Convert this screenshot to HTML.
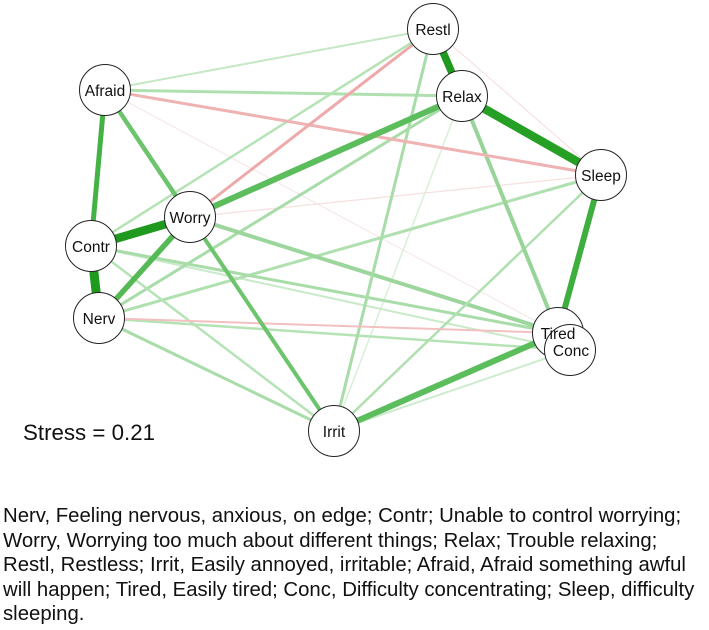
<!DOCTYPE html>
<html><head><meta charset="utf-8"><style>
body{margin:0;background:#fff;width:709px;height:630px;overflow:hidden;font-family:"Liberation Sans",Arial,sans-serif}
.cap{position:absolute;left:3px;top:504px;font-size:20.35px;line-height:24.6px;color:#111;white-space:nowrap}
</style></head><body>
<svg width="709" height="630" style="position:absolute;left:0;top:0" font-family="Liberation Sans, Arial, sans-serif">
<g stroke-linecap="butt">
<line x1="433" y1="29" x2="601" y2="175" stroke="#f6dcdc" stroke-width="1"/>
<line x1="190" y1="217" x2="601" y2="175" stroke="#f6e0e0" stroke-width="1.2"/>
<line x1="105" y1="90" x2="558" y2="333" stroke="#f6e4e4" stroke-width="1"/>
<line x1="334" y1="431" x2="462" y2="96" stroke="#d8f0d8" stroke-width="1.5"/>
<line x1="334" y1="431" x2="570" y2="350" stroke="#cdeccd" stroke-width="2"/>
<line x1="91" y1="246" x2="570" y2="350" stroke="#c8eac8" stroke-width="2"/>
<line x1="105" y1="90" x2="433" y2="29" stroke="#c3e8c3" stroke-width="2"/>
<line x1="105" y1="90" x2="462" y2="96" stroke="#b0e0b0" stroke-width="3"/>
<line x1="91" y1="246" x2="433" y2="29" stroke="#b5e3b5" stroke-width="2.5"/>
<line x1="99" y1="318" x2="462" y2="96" stroke="#a8dca8" stroke-width="3"/>
<line x1="99" y1="318" x2="601" y2="175" stroke="#b0e0b0" stroke-width="3"/>
<line x1="99" y1="318" x2="570" y2="350" stroke="#b5e3b5" stroke-width="2.5"/>
<line x1="99" y1="318" x2="334" y2="431" stroke="#a8dca8" stroke-width="3"/>
<line x1="91" y1="246" x2="558" y2="333" stroke="#a8dca8" stroke-width="3"/>
<line x1="91" y1="246" x2="334" y2="431" stroke="#b5e3b5" stroke-width="2.5"/>
<line x1="190" y1="217" x2="558" y2="333" stroke="#9cd69c" stroke-width="4"/>
<line x1="334" y1="431" x2="433" y2="29" stroke="#a8dca8" stroke-width="3"/>
<line x1="334" y1="431" x2="601" y2="175" stroke="#b0e0b0" stroke-width="2.5"/>
<line x1="462" y1="96" x2="558" y2="333" stroke="#98d498" stroke-width="4"/>
<line x1="105" y1="90" x2="601" y2="175" stroke="#efb3b3" stroke-width="3"/>
<line x1="190" y1="217" x2="433" y2="29" stroke="#eeaaaa" stroke-width="3"/>
<line x1="99" y1="318" x2="558" y2="333" stroke="#f2c0c0" stroke-width="2"/>
<line x1="105" y1="90" x2="190" y2="217" stroke="#6cc46c" stroke-width="4.5"/>
<line x1="190" y1="217" x2="334" y2="431" stroke="#6cc46c" stroke-width="4"/>
<line x1="99" y1="318" x2="190" y2="217" stroke="#55b955" stroke-width="5.5"/>
<line x1="190" y1="217" x2="462" y2="96" stroke="#5cbd5c" stroke-width="6"/>
<line x1="334" y1="431" x2="558" y2="333" stroke="#5cbd5c" stroke-width="6"/>
<line x1="105" y1="90" x2="91" y2="246" stroke="#44b244" stroke-width="5"/>
<line x1="601" y1="175" x2="558" y2="333" stroke="#3eaf3e" stroke-width="6"/>
<line x1="433" y1="29" x2="462" y2="96" stroke="#1f9a1f" stroke-width="7.5"/>
<line x1="462" y1="96" x2="601" y2="175" stroke="#25a025" stroke-width="8.5"/>
<line x1="91" y1="246" x2="190" y2="217" stroke="#1f9a1f" stroke-width="8.5"/>
<line x1="91" y1="246" x2="99" y2="318" stroke="#1f9a1f" stroke-width="9"/>
</g>
<g fill="#fff" stroke="#222" stroke-width="1">
<circle cx="433" cy="29" r="25.5"/><circle cx="105" cy="90" r="25.5"/><circle cx="462" cy="96" r="25.5"/>
<circle cx="601" cy="175" r="25.5"/><circle cx="190" cy="217" r="25.5"/><circle cx="91" cy="246" r="25.5"/>
<circle cx="99" cy="318" r="25.5"/><circle cx="558" cy="333" r="25.5"/><circle cx="570" cy="350" r="25.5"/>
<circle cx="334" cy="431" r="25.5"/>
</g>
<g font-size="15.5" text-anchor="middle" fill="#111">
<text x="433" y="35">Restl</text><text x="105" y="96">Afraid</text><text x="462" y="102">Relax</text>
<text x="601" y="181">Sleep</text><text x="190" y="223">Worry</text><text x="91" y="252">Contr</text>
<text x="99" y="324">Nerv</text><text x="558" y="339">Tired</text><text x="571" y="356">Conc</text>
<text x="334" y="437">Irrit</text>
</g>
<text x="23" y="440" font-size="22.3" fill="#111">Stress = 0.21</text>
</svg>
<div class="cap">Nerv, Feeling nervous, anxious, on edge; Contr; Unable to control worrying;<br>Worry, Worrying too much about different things; Relax; Trouble relaxing;<br>Restl, Restless; Irrit, Easily annoyed, irritable; Afraid, Afraid something awful<br>will happen; Tired, Easily tired; Conc, Difficulty concentrating; Sleep, difficulty<br>sleeping.</div>
</body></html>
